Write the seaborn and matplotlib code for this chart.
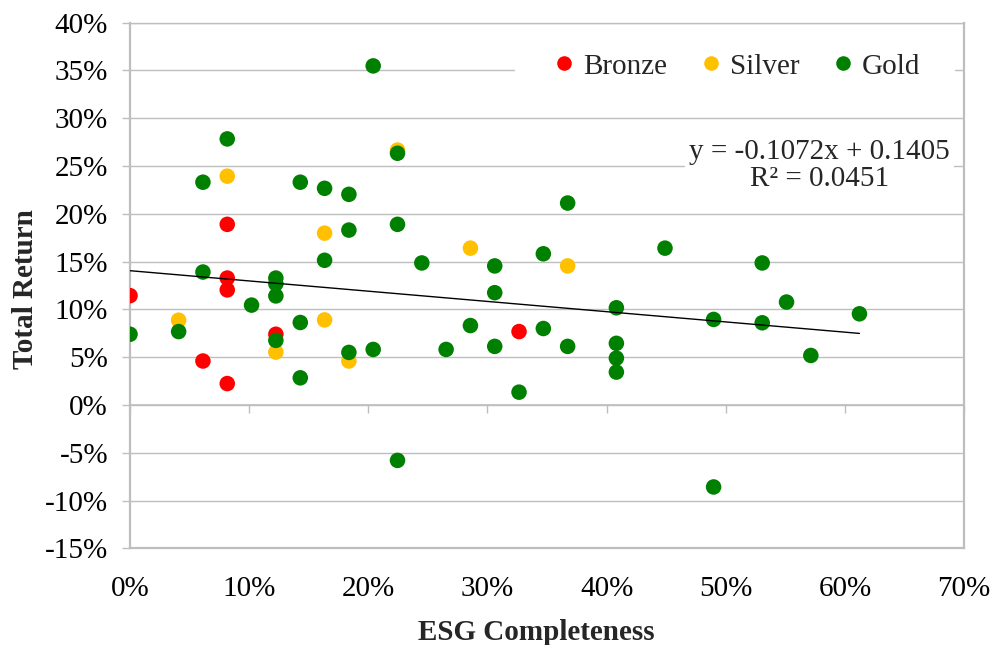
import numpy as np
import pandas as pd
import matplotlib
matplotlib.use("Agg")
import matplotlib.pyplot as plt
from matplotlib.ticker import PercentFormatter
from matplotlib.patches import Rectangle
import seaborn as sns

# ---------------- data ----------------
categories = ["Bronze", "Silver", "Gold"]

bronze_x = [0.0000, 0.0816, 0.0816, 0.0816, 0.0612, 0.0816, 0.1224, 0.3265]
bronze_y = [0.1144, 0.1890, 0.1328, 0.1204, 0.0460, 0.0224, 0.0740, 0.0768]

silver_x = [0.0408, 0.0816, 0.1224, 0.1633, 0.1633, 0.1837, 0.2245, 0.2857, 0.3673]
silver_y = [0.0887, 0.2394, 0.0553, 0.1798, 0.0890, 0.0460, 0.2667, 0.1641, 0.1455]

gold_x = [0.0000, 0.0408, 0.0612, 0.0612, 0.0816, 0.1020, 0.1224, 0.1224, 0.1224,
          0.1224, 0.1429, 0.1429, 0.1429, 0.1633, 0.1633, 0.1837, 0.1837, 0.1837,
          0.2041, 0.2041, 0.2245, 0.2245, 0.2245, 0.2449, 0.2653, 0.2857, 0.3061,
          0.3061, 0.3061, 0.3265, 0.3469, 0.3469, 0.3673, 0.3673, 0.4082, 0.4082,
          0.4082, 0.4082, 0.4490, 0.4898, 0.4898, 0.5306, 0.5306, 0.5510, 0.5714,
          0.6122]
gold_y = [0.0740, 0.0768, 0.2331, 0.1391, 0.2784, 0.1045, 0.1328, 0.1268, 0.1141,
          0.0676, 0.2331, 0.0863, 0.0284, 0.2267, 0.1514, 0.2204, 0.1830, 0.0550,
          0.3548, 0.0581, 0.2634, 0.1890, -0.0580, 0.1486, 0.0581, 0.0831, 0.1455,
          0.1175, 0.0613, 0.0134, 0.1582, 0.0800, 0.2113, 0.0613, 0.1017, 0.0645,
          0.0490, 0.0344, 0.1641, 0.0895, -0.0858, 0.1486, 0.0860, 0.1077, 0.0518,
          0.0954]

trend_slope = -0.1072
trend_intercept = 0.1405
r_squared = 0.0451

x_ticks = [0.0, 0.1, 0.2, 0.3, 0.4, 0.5, 0.6, 0.7]
y_ticks = [-0.15, -0.10, -0.05, 0.0, 0.05, 0.10, 0.15, 0.20, 0.25, 0.30, 0.35, 0.40]

colors = {"Bronze": "#FF0000", "Silver": "#FFC000", "Gold": "#008000"}

# ---------------- frame ----------------
df = pd.DataFrame({
    "ESG Completeness": bronze_x + silver_x + gold_x,
    "Total Return": bronze_y + silver_y + gold_y,
    "Tier": ["Bronze"] * len(bronze_x) + ["Silver"] * len(silver_x) + ["Gold"] * len(gold_x),
})

sns.set_style("white")
plt.rcParams["font.family"] = ["Liberation Serif", "DejaVu Serif"]
plt.rcParams["axes.unicode_minus"] = False

FS = 21
GRID = "#BEBEBE"

fig, ax = plt.subplots(figsize=(9.91, 6.45), dpi=100)
fig.subplots_adjust(left=0.1312, right=0.9728, top=0.9648, bottom=0.1499)

sns.scatterplot(data=df, x="ESG Completeness", y="Total Return", hue="Tier",
                hue_order=categories, palette=colors, s=125, linewidth=0,
                ax=ax, zorder=3, legend=True)

# trendline from the fitted equation over the data range
xs = np.array([df["ESG Completeness"].min(), df["ESG Completeness"].max()])
ax.plot(xs, trend_intercept + trend_slope * xs, color="black", lw=1.0, zorder=4)

ax.set_xlim(x_ticks[0], x_ticks[-1])
ax.set_ylim(y_ticks[0], y_ticks[-1])
ax.set_xticks(x_ticks)
ax.set_yticks(y_ticks)
ax.xaxis.set_major_formatter(PercentFormatter(xmax=1, decimals=0))
ax.yaxis.set_major_formatter(PercentFormatter(xmax=1, decimals=0))

ax.set_axisbelow(True)
ax.yaxis.grid(True, color=GRID, lw=1.0)
ax.xaxis.grid(False)

for side in ["left", "right", "bottom"]:
    ax.spines[side].set_visible(True)
    ax.spines[side].set_color(GRID)
    ax.spines[side].set_linewidth(1.6)
ax.spines["top"].set_visible(True)
ax.spines["top"].set_color(GRID)
ax.spines["top"].set_linewidth(1.0)

ax.tick_params(axis="y", which="major", left=True, length=5.8, width=1.0,
               color=GRID, pad=10, labelsize=FS, labelcolor="black")
ax.tick_params(axis="x", which="major", bottom=True, length=0, pad=20,
               labelsize=FS, labelcolor="black")

# horizontal axis crossing at 0% with tick marks
zero_frac = (0 - y_ticks[0]) / (y_ticks[-1] - y_ticks[0])
secax = ax.secondary_xaxis(zero_frac)
secax.set_xticks(x_ticks)
secax.tick_params(axis="x", length=5.8, width=1.0, color=GRID, labelbottom=False,
                  labeltop=False, direction="out")
for sp in secax.spines.values():
    sp.set_color(GRID)
    sp.set_linewidth(1.2)

ax.set_xlabel("ESG Completeness", fontsize=FS, fontweight="bold")
ax.set_ylabel("Total Return", fontsize=FS, fontweight="bold")
ax.xaxis.set_label_coords(0.487, -0.134)
ax.yaxis.label.set_va("center")
ax.yaxis.set_label_coords(-0.125, 0.493)

# legend
handles, labels = ax.get_legend_handles_labels()
if ax.get_legend() is not None:
    ax.get_legend().remove()
ax.add_patch(Rectangle((0.4616, 0.862), 0.527, 0.103, transform=ax.transAxes,
                       facecolor="white", edgecolor="none", zorder=1.5))
leg = ax.legend(handles, labels, loc="center", bbox_to_anchor=(0.729, 0.917),
                ncol=3, frameon=False, fontsize=FS, handlelength=0.6,
                handletextpad=0.35, columnspacing=1.2, borderpad=0.2)
for h in leg.legend_handles:
    if hasattr(h, "set_markersize"):
        h.set_markersize(10.5)
    elif hasattr(h, "set_sizes"):
        h.set_sizes([110])

# equation
ax.text(0.827, 0.729,
        f"y = {trend_slope:.4f}x + {trend_intercept:.4f}\nR\u00b2 = {r_squared:.4f}",
        transform=ax.transAxes, ha="center", va="center", multialignment="center",
        fontsize=FS, linespacing=1.05, zorder=5,
        bbox=dict(facecolor="white", edgecolor="none", pad=3))

fig.savefig("out.png", dpi=100)
